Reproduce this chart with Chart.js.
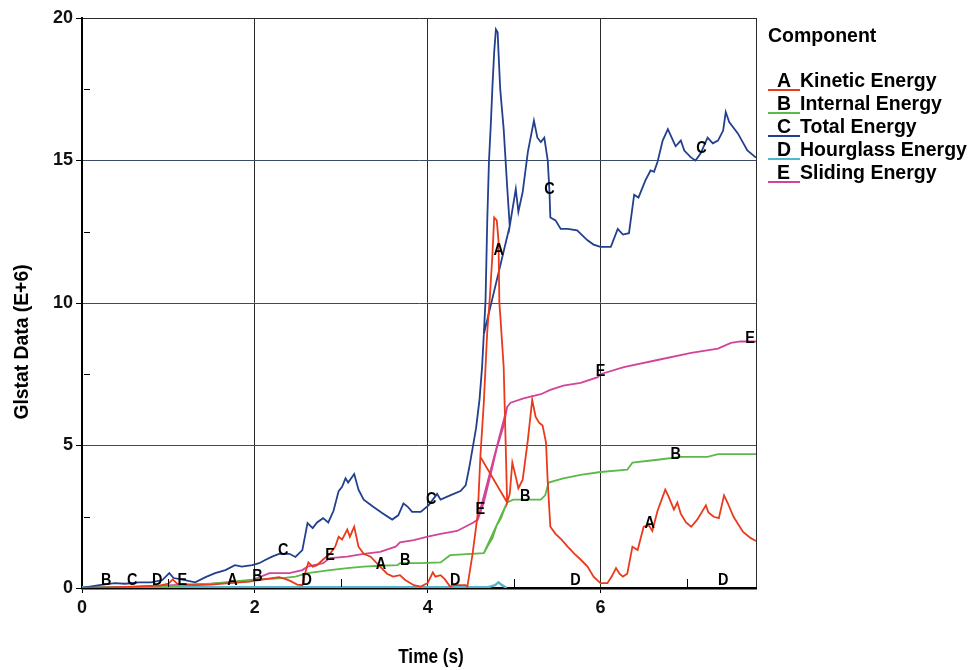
<!DOCTYPE html>
<html>
<head>
<meta charset="utf-8">
<title>Glstat energies</title>
<script src="https://cdn.jsdelivr.net/npm/chart.js@4.4.1/dist/chart.umd.min.js"></script>
<style>
  html, body { margin: 0; padding: 0; background: #ffffff; }
  #wrap { width: 975px; height: 670px; }
</style>
</head>
<body>
<div id="wrap"><canvas id="glstat" width="975" height="670"></canvas></div>
<script>
// ---- energy histories (E+6), time in seconds ----
// The restart near t = 4.6..4.95 s repeats part of the time range,
// so some times appear twice and the traces double back there.
const kineticT = [0, 0.3, 0.6, 0.9, 1.0, 1.05, 1.1, 1.3, 1.5, 1.7,
  1.94, 2.1, 2.28, 2.35, 2.41, 2.49, 2.55, 2.58, 2.62, 2.67,
  2.72, 2.79, 2.87, 2.93, 2.97, 3.01, 3.07, 3.1, 3.15, 3.2,
  3.26, 3.34, 3.45, 3.53, 3.6, 3.68, 3.74, 3.84, 3.92, 4.0,
  4.06, 4.09, 4.15, 4.2, 4.26, 4.3, 4.44, 4.46, 4.52, 4.58,
  4.61, 4.92, 4.61, 4.65, 4.69, 4.72, 4.75, 4.77, 4.8, 4.82,
  4.83, 4.84, 4.88, 4.9, 4.92, 4.95, 4.98, 5.02, 5.05, 5.1,
  5.16, 5.21, 5.25, 5.29, 5.33, 5.37, 5.39, 5.42, 5.48, 5.55,
  5.62, 5.7, 5.77, 5.85, 5.92, 6.0, 6.08, 6.13, 6.18, 6.22,
  6.26, 6.31, 6.37, 6.43, 6.5, 6.56, 6.6, 6.66, 6.75, 6.79,
  6.85, 6.89, 6.93, 6.99, 7.05, 7.12, 7.22, 7.25, 7.31, 7.37,
  7.43, 7.47, 7.54, 7.65, 7.74, 7.8];
const kineticV = [0, 0.02, 0.05, 0.08, 0.15, 0.3, 0.15, 0.1, 0.12, 0.17,
  0.22, 0.3, 0.38, 0.32, 0.25, 0.12, 0.1, 0.5, 0.9, 0.75,
  0.8, 1.0, 1.2, 1.45, 1.8, 1.7, 2.05, 1.8, 2.15, 1.45,
  1.2, 1.1, 0.75, 0.5, 0.4, 0.45, 0.28, 0.1, 0.05, 0.17,
  0.55, 0.4, 0.45, 0.3, 0.05, 0.1, 0.1, 0.05, 1.2, 2.6,
  4.6, 3.0, 4.6, 6.5, 9.0, 10.2, 11.7, 13.0, 12.9, 12.2,
  10.0, 9.6, 7.75, 5.4, 3.0, 3.3, 4.4, 3.9, 3.5, 3.8,
  5.2, 6.6, 6.0, 5.8, 5.7, 5.1, 3.7, 2.15, 1.9, 1.7,
  1.45, 1.2, 1.0, 0.75, 0.4, 0.17, 0.17, 0.4, 0.7, 0.5,
  0.4, 0.5, 1.45, 1.33, 2.15, 2.2, 2.0, 2.7, 3.45, 3.2,
  2.75, 3.0, 2.6, 2.3, 2.15, 2.4, 2.9, 2.65, 2.5, 2.45,
  3.25, 3.0, 2.5, 1.97, 1.75, 1.65];

const internalT = [0, 0.5, 1.0, 1.5, 1.94, 2.32, 2.47, 2.61, 2.87, 3.07,
  3.26, 3.45, 3.65, 3.68, 3.92, 4.15, 4.26, 4.65, 4.92, 4.65,
  4.7, 4.75, 4.8, 4.85, 4.88, 4.92, 4.99, 5.31, 5.36, 5.4,
  5.57, 5.77, 6.0, 6.31, 6.37, 6.66, 6.93, 7.24, 7.36, 7.8];
const internalV = [0, 0.02, 0.06, 0.15, 0.28, 0.35, 0.4, 0.52, 0.63, 0.7,
  0.75, 0.78, 0.8, 0.87, 0.87, 0.9, 1.15, 1.22, 3.0, 1.22,
  1.5, 1.75, 2.2, 2.45, 2.7, 3.0, 3.1, 3.1, 3.25, 3.7,
  3.85, 3.97, 4.07, 4.15, 4.4, 4.5, 4.6, 4.6, 4.7, 4.7];

const totalT = [0, 0.2, 0.38, 0.5, 0.66, 0.8, 0.93, 1.01, 1.06, 1.15,
  1.31, 1.43, 1.54, 1.66, 1.77, 1.85, 1.97, 2.05, 2.12, 2.2,
  2.28, 2.4, 2.47, 2.55, 2.61, 2.67, 2.72, 2.79, 2.85, 2.91,
  2.97, 3.01, 3.05, 3.08, 3.15, 3.2, 3.26, 3.37, 3.49, 3.59,
  3.66, 3.72, 3.77, 3.82, 3.92, 4.01, 4.11, 4.15, 4.26, 4.38,
  4.44, 4.48, 4.52, 4.56, 4.6, 4.63, 4.65, 4.95, 4.65, 4.67,
  4.69, 4.71, 4.73, 4.75, 4.77, 4.79, 4.81, 4.82, 4.84, 4.88,
  4.92, 4.95, 5.02, 5.05, 5.1, 5.16, 5.23, 5.27, 5.31, 5.35,
  5.39, 5.41, 5.42, 5.48, 5.54, 5.62, 5.73, 5.85, 5.92, 6.0,
  6.12, 6.2, 6.26, 6.33, 6.39, 6.44, 6.52, 6.58, 6.62, 6.66,
  6.72, 6.78, 6.84, 6.87, 6.93, 6.97, 7.05, 7.1, 7.16, 7.24,
  7.3, 7.36, 7.42, 7.45, 7.49, 7.59, 7.7, 7.8];
const totalV = [0, 0.1, 0.17, 0.15, 0.2, 0.2, 0.28, 0.52, 0.35, 0.3,
  0.2, 0.38, 0.52, 0.63, 0.8, 0.75, 0.8, 0.87, 0.98, 1.1,
  1.2, 1.2, 1.09, 1.33, 2.28, 2.1, 2.3, 2.45, 2.3, 2.7,
  3.4, 3.55, 3.85, 3.7, 4.0, 3.45, 3.1, 2.85, 2.6, 2.4,
  2.55, 2.97, 2.85, 2.67, 2.67, 2.9, 3.3, 3.1, 3.25, 3.4,
  3.6, 4.2, 4.9, 5.6, 6.6, 7.75, 8.9, 12.7, 8.9, 10.1,
  12.9, 15.0, 16.2, 17.6, 18.8, 19.6, 19.5, 18.8, 17.5, 16.1,
  14.1, 12.7, 14.0, 13.2, 13.9, 15.3, 16.4, 15.8, 15.65, 15.8,
  15.0, 13.9, 13.0, 12.9, 12.6, 12.6, 12.55, 12.2, 12.05, 11.97,
  11.97, 12.6, 12.4, 12.45, 13.8, 13.7, 14.3, 14.65, 14.6, 14.95,
  15.7, 16.1, 15.7, 15.5, 15.7, 15.35, 15.1, 15.0, 15.25, 15.8,
  15.6, 15.7, 16.05, 16.7, 16.35, 15.95, 15.35, 15.1];

// after the restart the hourglass trace sits just under the time axis
const hourglassT = [0, 4.7, 4.78, 4.82, 4.86, 4.9, 4.92, 7.8];
const hourglassV = [0.03, 0.03, 0.1, 0.2, 0.1, 0.03, -0.1, -0.1];

const slidingT = [0, 0.5, 0.9, 1.2, 1.5, 1.8, 1.97, 2.17, 2.4, 2.55,
  2.61, 2.79, 2.87, 3.07, 3.26, 3.45, 3.63, 3.68, 3.84, 4.0,
  4.15, 4.34, 4.53, 4.58, 4.92, 4.58, 4.65, 4.73, 4.8, 4.88,
  4.92, 4.96, 5.11, 5.31, 5.42, 5.57, 5.77, 5.97, 6.0, 6.27,
  6.66, 7.05, 7.36, 7.51, 7.62, 7.8];
const slidingV = [0, 0.03, 0.08, 0.12, 0.15, 0.2, 0.28, 0.52, 0.52, 0.63,
  0.75, 0.87, 1.05, 1.1, 1.2, 1.27, 1.45, 1.6, 1.68, 1.8,
  1.9, 2.0, 2.3, 2.4, 6.35, 2.4, 3.0, 4.0, 4.9, 5.7,
  6.35, 6.5, 6.65, 6.8, 6.95, 7.1, 7.2, 7.4, 7.5, 7.75,
  8.0, 8.25, 8.4, 8.6, 8.65, 8.65];

// series identity
const seriesLetters = ['A', 'B', 'C', 'D', 'E'];
const seriesNames = ['Kinetic Energy', 'Internal Energy', 'Total Energy', 'Hourglass Energy', 'Sliding Energy'];
const seriesColors = ['#ea3a1c', '#5cb849', '#23408e', '#52b6cc', '#d2449a'];

// curve identifier letters placed along the traces (letter, time)
const tagLetters = ['B', 'C', 'D', 'E', 'A', 'B', 'C', 'D', 'E', 'A', 'B', 'C',
  'D', 'E', 'A', 'B', 'C', 'D', 'E', 'A', 'B', 'C', 'D', 'E'];
const tagTimes = [0.28, 0.58, 0.87, 1.16, 1.74, 2.03, 2.33, 2.6, 2.87, 3.46, 3.74, 4.04,
  4.32, 4.61, 4.822, 5.13, 5.41, 5.71, 6.0, 6.57, 6.87, 7.17, 7.42, 7.73];

// axes
const xTickValues = [0, 2, 4, 6];
const xMax = 7.8;
const yTickValues = [0, 5, 10, 15, 20];
const xMinorTicks = [1, 3, 5, 7];
const yMinorTicks = [2.5, 7.5, 12.5, 17.5];
const xTitle = 'Time (s)';
const yTitle = 'Glstat Data (E+6)';
const legendTitle = 'Component';

// ---- helpers ----
const pairs = (t, v) => t.map((x, i) => ({ x: x, y: v[i] }));
const seriesT = [kineticT, internalT, totalT, hourglassT, slidingT];
const seriesV = [kineticV, internalV, totalV, hourglassV, slidingV];

// value of a trace at time t, taken from the last segment that spans t
function valueAt(points, t) {
  let val = null;
  for (let i = 1; i < points.length; i++) {
    const a = points[i - 1], b = points[i];
    const lo = Math.min(a.x, b.x), hi = Math.max(a.x, b.x);
    if (t >= lo && t <= hi) {
      val = (b.x === a.x) ? b.y : a.y + (b.y - a.y) * (t - a.x) / (b.x - a.x);
    }
  }
  return val === null ? points[points.length - 1].y : val;
}

const BOLD = "'Liberation Sans', Arial, sans-serif";

// text squeezed horizontally, like a narrow face
function narrowText(ctx, text, cx, cy, squeeze, angle) {
  ctx.save();
  ctx.translate(cx, cy);
  if (angle) ctx.rotate(angle);
  ctx.scale(squeeze, 1);
  ctx.fillText(text, 0, 0);
  ctx.restore();
}

const decorations = {
  id: 'decorations',
  afterDraw(chart) {
    const { ctx, chartArea: area } = chart;
    const x = chart.scales.x, y = chart.scales.y;
    ctx.save();

    // minor tick marks pointing into the plot
    ctx.strokeStyle = '#000';
    ctx.lineWidth = 1;
    ctx.beginPath();
    xMinorTicks.forEach(v => {
      const px = Math.round(x.getPixelForValue(v)) + 0.5;
      ctx.moveTo(px, area.bottom - 1);
      ctx.lineTo(px, area.bottom - 9);
    });
    yMinorTicks.forEach(v => {
      const py = Math.round(y.getPixelForValue(v)) + 0.5;
      ctx.moveTo(area.left + 2, py);
      ctx.lineTo(area.left + 8, py);
    });
    ctx.stroke();

    // identifier letters on the curves
    ctx.font = 'bold 17px ' + BOLD;
    ctx.fillStyle = '#000';
    ctx.textAlign = 'center';
    ctx.textBaseline = 'middle';
    tagLetters.forEach((letter, i) => {
      const ds = chart.data.datasets[seriesLetters.indexOf(letter)];
      const t = tagTimes[i];
      const v = valueAt(ds.data, t);
      let py = y.getPixelForValue(v) - 3;
      py = Math.min(py, area.bottom - 8);
      narrowText(ctx, letter, x.getPixelForValue(t), py, 0.85, 0);
    });

    // axis titles
    ctx.font = 'bold 21px ' + BOLD;
    ctx.textAlign = 'center';
    ctx.textBaseline = 'middle';
    narrowText(ctx, xTitle, 431, 657, 0.82, 0);
    narrowText(ctx, yTitle, 22, 342, 0.92, -Math.PI / 2);

    // legend block on the right
    const lx = area.right + 12;
    ctx.textAlign = 'left';
    ctx.font = 'bold 19.5px ' + BOLD;
    ctx.fillText(legendTitle, lx, 37);
    chart.data.datasets.forEach((ds, i) => {
      const yy = 82 + i * 23;
      ctx.fillStyle = '#000';
      ctx.fillText(ds.letter, lx + 9, yy);
      ctx.fillText(ds.label, lx + 32, yy);
      ctx.strokeStyle = ds.borderColor;
      ctx.lineWidth = 2;
      ctx.beginPath();
      ctx.moveTo(lx, yy + 8);
      ctx.lineTo(lx + 32, yy + 8);
      ctx.stroke();
    });
    ctx.restore();
  }
};

const datasets = seriesLetters.map((letter, i) => ({
  label: seriesNames[i],
  letter: letter,
  data: pairs(seriesT[i], seriesV[i]),
  borderColor: seriesColors[i],
  borderWidth: i === 3 ? 2.5 : 1.8,
  pointRadius: 0,
  tension: 0,
  fill: false
}));

new Chart(document.getElementById('glstat'), {
  type: 'line',
  data: { datasets: datasets },
  options: {
    responsive: false,
    animation: false,
    devicePixelRatio: 1,
    parsing: false,
    layout: { padding: { left: 0, top: 18, right: 219, bottom: 0 } },
    plugins: { legend: { display: false }, tooltip: { enabled: false } },
    scales: {
      x: {
        type: 'linear',
        min: 0,
        max: xMax,
        afterBuildTicks: s => { s.ticks = xTickValues.concat([xMax]).map(v => ({ value: v })); },
        afterFit: s => { s.height = 82; },
        ticks: {
          autoSkip: false,
          maxRotation: 0,
          padding: 4,
          color: '#111',
          font: { family: BOLD, size: 18, weight: 'bold' },
          callback: v => xTickValues.includes(v) ? String(v) : ''
        },
        grid: {
          color: c => (c.tick && c.tick.value === 0) ? 'rgba(0,0,0,0)' : '#2b2b2b',
          lineWidth: 1,
          tickLength: 5,
          tickColor: c => (c.tick && c.tick.value === xMax) ? 'rgba(0,0,0,0)' : '#000'
        },
        border: { color: '#000', width: 2.5 }
      },
      y: {
        min: 0,
        max: 20,
        afterBuildTicks: s => { s.ticks = yTickValues.map(v => ({ value: v })); },
        afterFit: s => { s.width = 82; },
        ticks: {
          padding: 3,
          color: '#111',
          font: { family: BOLD, size: 18, weight: 'bold' }
        },
        grid: {
          color: c => (c.tick && c.tick.value === 20) ? '#2b2b2b' : '#3a4c63',
          lineWidth: 1,
          tickLength: 6,
          tickColor: '#000'
        },
        border: { color: '#000', width: 2 }
      }
    }
  },
  plugins: [decorations]
});
</script>
</body>
</html>
